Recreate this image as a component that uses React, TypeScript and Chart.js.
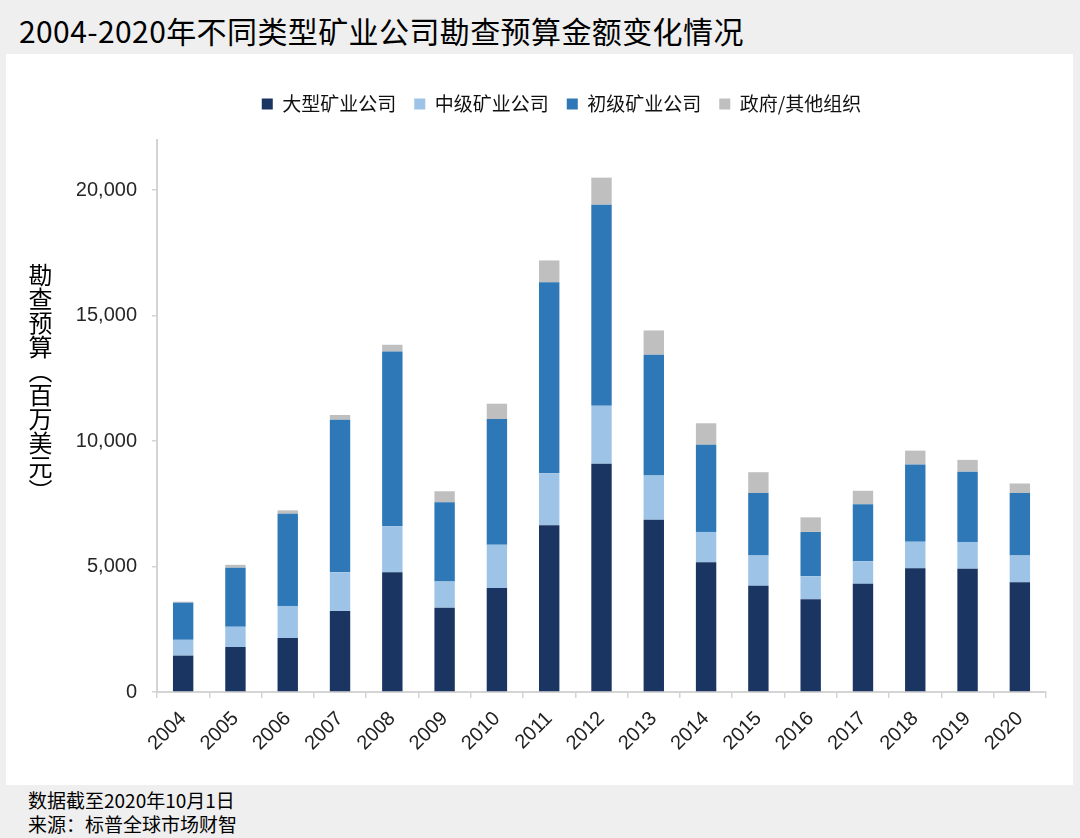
import React, { useEffect, useRef } from "react";
import { Chart, registerables } from "chart.js";

Chart.register(...registerables);

const years = ["2004", "2005", "2006", "2007", "2008", "2009", "2010", "2011", "2012", "2013", "2014", "2015", "2016", "2017", "2018", "2019", "2020"];
const seriesNames = ["大型矿业公司", "中级矿业公司", "初级矿业公司", "政府/其他组织"];
const majorCompanies = [1450, 1790, 2150, 3230, 4770, 3360, 4140, 6650, 9100, 6870, 5170, 4230, 3700, 4310, 4930, 4910, 4370];
const intermediateCompanies = [630, 810, 1280, 1540, 1840, 1040, 1730, 2070, 2310, 1760, 1210, 1210, 910, 900, 1060, 1070, 1070];
const juniorCompanies = [1480, 2350, 3670, 6080, 6960, 3160, 5010, 7610, 8010, 4810, 3470, 2490, 1770, 2270, 3080, 2800, 2490];
const governmentOther = [40, 120, 140, 190, 270, 440, 610, 870, 1080, 970, 860, 830, 580, 540, 550, 470, 380];
const yTicks = [0, 5000, 10000, 15000, 20000];
const seriesColors = ["#1a3562", "#9dc3e6", "#2e78b7", "#bfbfbf"];

const titleText = "2004-2020年不同类型矿业公司勘查预算金额变化情况";
const yTitle = "勘查预算（百万美元）";
const noteLines = ["数据截至2020年10月1日", "来源：标普全球市场财智"];

export default function App() {
  const canvasRef = useRef<HTMLCanvasElement | null>(null);

  useEffect(() => {
    if (!canvasRef.current) return;
    const legendGap = {
      id: "legendGap",
      beforeLayout(chart: any) {
        const lg = chart.legend;
        if (lg && !lg._gapPatched) {
          const orig = lg.fit;
          lg.fit = function () {
            orig.call(this);
            this.height += 16.5;
          };
          lg._gapPatched = true;
        }
      },
    };
    const values = [majorCompanies, intermediateCompanies, juniorCompanies, governmentOther];
    const chart = new Chart(canvasRef.current, {
      type: "bar",
      data: {
        labels: years,
        datasets: seriesNames.map((name, i) => ({
          label: name,
          data: values[i],
          backgroundColor: seriesColors[i],
          borderWidth: 0,
          categoryPercentage: 1,
          barPercentage: 0.39,
        })),
      },
      options: {
        animation: false,
        responsive: false,
        maintainAspectRatio: false,
        layout: { padding: { left: 71, right: 27, top: 22.5, bottom: 0 } },
        plugins: {
          tooltip: { enabled: false },
          legend: {
            position: "top",
            labels: {
              boxWidth: 11,
              boxHeight: 11,
              padding: 18,
              color: "#111",
              font: { family: "'Noto Sans CJK SC', sans-serif", size: 19 },
            },
          },
        },
        scales: {
          x: {
            stacked: true,
            afterFit: (s: any) => {
              s.height = 93;
            },
            grid: {
              offset: true,
              drawOnChartArea: false,
              drawTicks: true,
              tickLength: 6,
              color: "#d4d4d4",
              lineWidth: 1.5,
            },
            border: { color: "#d4d4d4", width: 2 },
            ticks: {
              minRotation: 45,
              maxRotation: 45,
              autoSkip: false,
              padding: 9,
              color: "#222",
              font: { family: "'Liberation Sans', Arial, sans-serif", size: 20 },
            },
          },
          y: {
            stacked: true,
            min: 0,
            max: 22000,
            afterFit: (s: any) => {
              s.width = 80;
            },
            afterBuildTicks: (axis: any) => {
              axis.ticks = yTicks.map((v) => ({ value: v }));
            },
            grid: {
              drawOnChartArea: false,
              drawTicks: true,
              tickLength: 5,
              color: "#d4d4d4",
              lineWidth: 1.5,
            },
            border: { color: "#d4d4d4", width: 2 },
            ticks: {
              padding: 15,
              color: "#262626",
              font: { family: "'Liberation Sans', Arial, sans-serif", size: 20 },
              callback: (v: any) => Number(v).toLocaleString("en-US"),
            },
          },
        },
      },
      plugins: [legendGap],
    } as any);
    return () => chart.destroy();
  }, []);

  return (
    <div
      style={{
        position: "absolute",
        left: 0,
        top: 0,
        width: 1080,
        height: 838,
        background: "#efefef",
        overflow: "hidden",
        fontFamily: "'Noto Sans CJK SC', sans-serif",
      }}
    >
      <div
        style={{
          position: "absolute",
          left: 19,
          top: 12,
          fontSize: 30,
          lineHeight: "36px",
          letterSpacing: "0.4px",
          color: "#000",
          whiteSpace: "nowrap",
        }}
      >
        {titleText}
      </div>
      <div
        style={{
          position: "absolute",
          left: 6,
          top: 54,
          width: 1067,
          height: 731,
          background: "#fff",
        }}
      >
        <canvas
          ref={canvasRef}
          width={1067}
          height={731}
          style={{ position: "absolute", left: 0, top: 0, width: 1067, height: 731 }}
        />
      </div>
      <div
        style={{
          position: "absolute",
          left: 28,
          top: 263,
          writingMode: "vertical-rl",
          textOrientation: "upright",
          fontSize: 24,
          lineHeight: "24px",
          color: "#000",
          whiteSpace: "nowrap",
        }}
      >
        {yTitle}
      </div>
      <div
        style={{
          position: "absolute",
          left: 28,
          top: 788,
          fontSize: 19,
          lineHeight: "24px",
          color: "#000",
          whiteSpace: "nowrap",
        }}
      >
        {noteLines.map((t) => (
          <div key={t}>{t}</div>
        ))}
      </div>
    </div>
  );
}
